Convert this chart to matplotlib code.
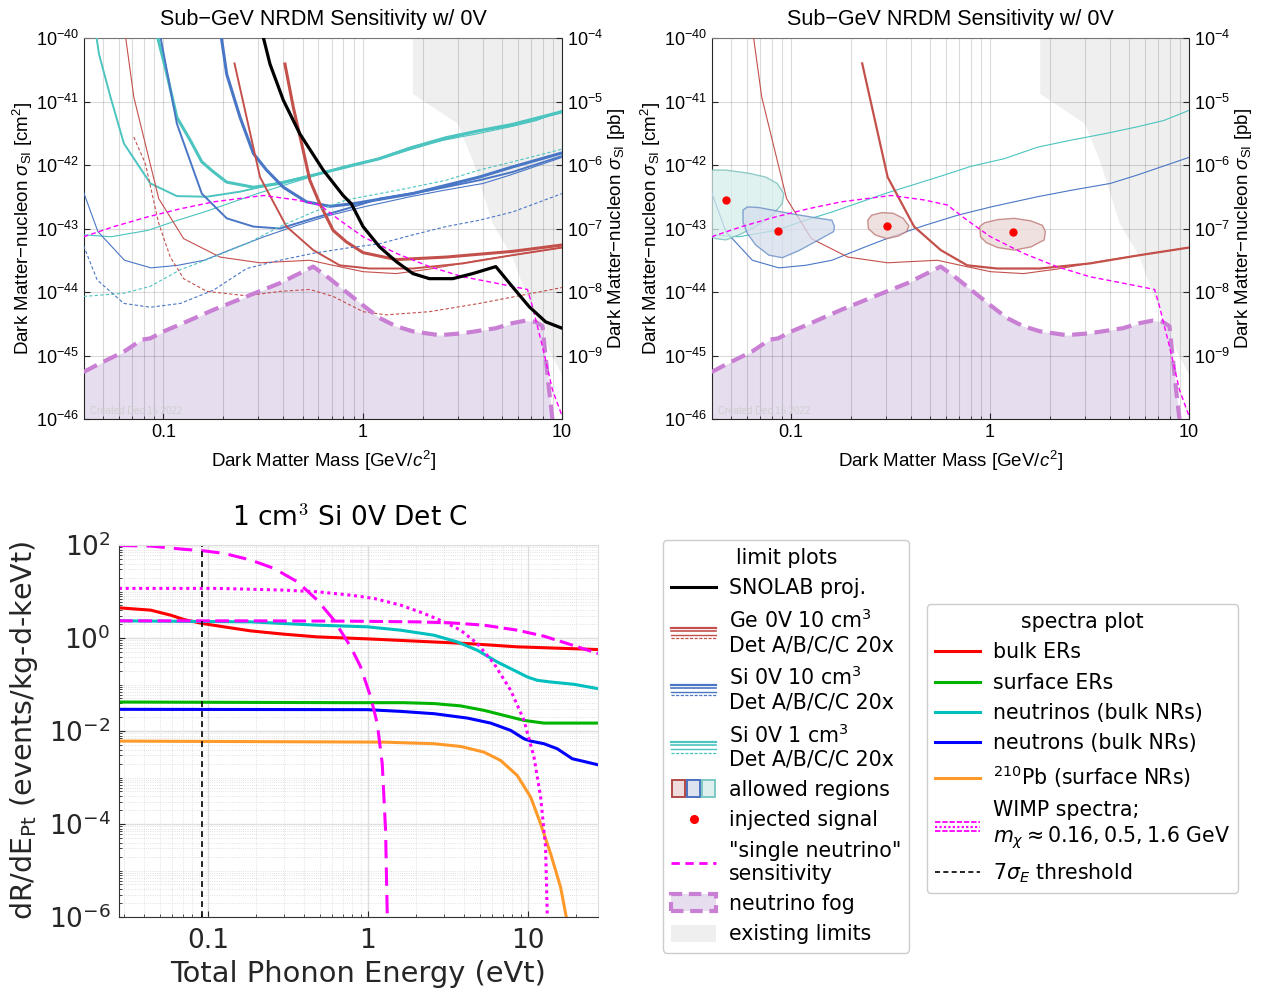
import numpy as np
import matplotlib
matplotlib.use("Agg")
import matplotlib.pyplot as plt
from matplotlib.lines import Line2D
from matplotlib.patches import Rectangle
from matplotlib.legend_handler import HandlerBase
from matplotlib.font_manager import FontProperties
from matplotlib.ticker import NullLocator, NullFormatter, LogLocator

plt.rcParams["mathtext.fontset"] = "custom"
plt.rcParams["mathtext.rm"] = "Liberation Sans"
plt.rcParams["mathtext.it"] = "Liberation Sans:italic"
plt.rcParams["mathtext.bf"] = "Liberation Sans:bold"

# ---------------- sensitivity curves: log10(m / GeV), log10(sigma / cm^2) ----------------
snolab_lm = [-0.50, -0.465, -0.398, -0.315, -0.198, -0.098, -0.057, 0.002, 0.085, 0.168, 0.252, 0.335, 0.452, 0.552, 0.668, 0.752, 0.835, 0.918, 1.0]
snolab_ls = [-39.97, -40.41, -40.98, -41.51, -42.08, -42.48, -42.61, -42.97, -43.29, -43.52, -43.71, -43.79, -43.79, -43.71, -43.60, -43.92, -44.23, -44.47, -44.57]

geA_lm = [-1.19, -1.148, -1.023, -0.898, -0.715, -0.515, -0.265, -0.148, 0.002, 0.168, 0.335, 0.585, 1.0]
geA_ls = [-39.97, -40.93, -42.53, -43.16, -43.45, -43.54, -43.50, -43.58, -43.68, -43.71, -43.64, -43.50, -43.30]
geB_lm = [-0.643, -0.515, -0.382, -0.248, -0.115, 0.035, 0.252, 0.502, 0.752, 1.0]
geB_ls = [-40.40, -42.19, -42.97, -43.34, -43.58, -43.63, -43.63, -43.55, -43.42, -43.30]
geC_lm = [-0.39, -0.348, -0.302, -0.265, -0.215, -0.148, -0.082, 0.002, 0.168, 0.418, 0.752, 1.0]
geC_ls = [-40.41, -41.09, -41.72, -42.24, -42.61, -43.03, -43.21, -43.38, -43.49, -43.45, -43.36, -43.26]
ge20_lm = [-1.148, -1.09, -1.023, -0.965, -0.898, -0.782, -0.582, -0.415, -0.265, -0.148, 0.002, 0.118, 0.335, 0.585, 1.0]
ge20_ls = [-41.56, -41.98, -42.92, -43.45, -43.79, -43.99, -44.06, -43.99, -43.96, -44.07, -44.31, -44.36, -44.31, -44.18, -43.93]

si10A_lm = [-1.40, -1.328, -1.195, -1.062, -0.928, -0.795, -0.628, -0.495, -0.328, -0.162, 0.005, 0.238, 0.405, 0.605, 0.738, 1.0]
si10A_ls = [-42.43, -43.05, -43.50, -43.62, -43.58, -43.50, -43.29, -43.13, -42.95, -42.79, -42.66, -42.50, -42.40, -42.29, -42.16, -41.88]
si10B_lm = [-1.015, -0.932, -0.807, -0.682, -0.548, -0.415, -0.248, -0.082, 0.085, 0.335, 0.585, 0.752, 1.0]
si10B_ls = [-39.97, -41.35, -42.45, -42.84, -42.97, -43.00, -42.84, -42.69, -42.53, -42.40, -42.24, -42.11, -41.86]
si10C_lm = [-0.71, -0.682, -0.615, -0.548, -0.482, -0.398, -0.282, -0.165, -0.048, 0.085, 0.252, 0.418, 0.585, 0.752, 1.0]
si10C_ls = [-39.97, -40.57, -41.25, -41.82, -42.08, -42.35, -42.58, -42.65, -42.61, -42.54, -42.45, -42.32, -42.19, -42.03, -41.81]
si10x20_lm = [-1.40, -1.332, -1.198, -1.065, -0.915, -0.748, -0.582, -0.415, -0.248, -0.082, 0.085, 0.252, 0.418, 0.585, 0.752, 1.0]
si10x20_ls = [-43.27, -43.81, -44.18, -44.24, -44.18, -43.97, -43.63, -43.50, -43.39, -43.31, -43.24, -43.10, -42.97, -42.87, -42.74, -42.45]

si1A_lm = [-1.40, -1.262, -1.078, -0.928, -0.795, -0.528, -0.262, -0.095, 0.072, 0.238, 0.405, 0.572, 0.738, 0.872, 1.0]
si1A_ls = [-43.10, -43.13, -43.03, -42.87, -42.74, -42.45, -42.19, -42.02, -41.90, -41.72, -41.61, -41.51, -41.40, -41.30, -41.14]
si1B_lm = [-1.336, -1.323, -1.265, -1.198, -1.065, -0.932, -0.782, -0.615, -0.448, -0.248, -0.082, 0.085, 0.252, 0.418, 0.585, 0.752, 1.0]
si1B_ls = [-39.97, -40.25, -40.93, -41.66, -42.29, -42.49, -42.50, -42.42, -42.30, -42.16, -42.03, -41.90, -41.74, -41.59, -41.46, -41.38, -41.17]
si1C_lm = [-1.03, -0.982, -0.932, -0.865, -0.807, -0.748, -0.682, -0.548, -0.415, -0.248, -0.082, 0.085, 0.252, 0.418, 0.585, 0.752, 1.0]
si1C_ls = [-39.97, -40.57, -41.25, -41.61, -41.95, -42.11, -42.27, -42.35, -42.29, -42.16, -42.03, -41.90, -41.72, -41.57, -41.46, -41.36, -41.16]
si1x20_lm = [-1.40, -1.198, -1.065, -0.915, -0.748, -0.582, -0.415, -0.248, -0.082, 0.085, 0.252, 0.418, 0.585, 0.752, 1.0]
si1x20_ls = [-44.07, -44.02, -43.91, -43.65, -43.45, -43.24, -42.97, -42.74, -42.55, -42.45, -42.35, -42.24, -42.08, -41.95, -41.75]

nu_lm = [-1.40, -1.248, -1.082, -0.915, -0.748, -0.498, -0.332, -0.215, -0.115, 0.002, 0.168, 0.335, 0.502, 0.668, 0.827, 0.852, 0.902, 0.952, 1.0]
nu_ls = [-43.13, -42.97, -42.82, -42.69, -42.58, -42.48, -42.55, -42.63, -42.87, -43.13, -43.39, -43.60, -43.76, -43.86, -43.96, -44.23, -44.86, -45.54, -45.95]

fog_lm = [-1.40, -1.315, -1.198, -1.107, -1.065, -0.998, -0.915, -0.748, -0.582, -0.415, -0.332, -0.248, -0.165, -0.082, 0.002, 0.085, 0.168, 0.252, 0.385, 0.502, 0.668, 0.752, 0.818, 0.868, 0.902, 0.918, 0.935, 0.952]
fog_ls = [-45.26, -45.12, -44.94, -44.75, -44.73, -44.62, -44.51, -44.28, -44.07, -43.86, -43.73, -43.60, -43.79, -44.00, -44.21, -44.41, -44.54, -44.62, -44.68, -44.65, -44.57, -44.49, -44.45, -44.47, -44.54, -45.02, -45.54, -46.0]

limit_lm = [0.252, 0.252, 0.477, 0.552, 0.652, 0.752, 0.818, 0.885, 0.935, 1.0, 1.0]
limit_ls = [-40.0, -40.88, -41.35, -41.93, -42.92, -43.45, -44.02, -44.49, -44.91, -45.30, -40.0]

# allowed-region contours and injected points
reg_si1_lm = [-1.478, -1.428, -1.328, -1.212, -1.128, -1.070, -1.037, -1.045, -1.095, -1.178, -1.262, -1.328, -1.378, -1.428, -1.478]
reg_si1_ls = [-42.11, -42.08, -42.08, -42.13, -42.19, -42.29, -42.45, -42.61, -42.79, -42.97, -43.10, -43.18, -43.16, -43.10, -43.09]
reg_si10_lm = [-1.242, -1.220, -1.162, -1.012, -0.878, -0.795, -0.782, -0.787, -0.862, -0.962, -1.045, -1.112, -1.178, -1.220, -1.242]
reg_si10_ls = [-42.71, -42.66, -42.67, -42.76, -42.83, -42.87, -42.97, -43.05, -43.18, -43.35, -43.46, -43.42, -43.26, -43.08, -42.90]
reg_geB_lm = [-0.615, -0.595, -0.545, -0.487, -0.437, -0.408, -0.420, -0.462, -0.520, -0.578, -0.612]
reg_geB_ls = [-42.87, -42.79, -42.75, -42.76, -42.84, -42.96, -43.05, -43.12, -43.16, -43.10, -43.00]
reg_geA_lm = [-0.052, -0.028, 0.038, 0.122, 0.205, 0.263, 0.278, 0.272, 0.205, 0.122, 0.038, -0.020, -0.048]
reg_geA_ls = [-42.97, -42.91, -42.86, -42.84, -42.88, -42.95, -43.05, -43.18, -43.29, -43.34, -43.30, -43.22, -43.13]
inj_m = [0.047, 0.0858, 0.304, 1.30]
inj_sig = [2.79e-43, 9.3e-44, 1.10e-43, 8.75e-44]

# ---------------- spectra: log10(E / eVt), log10(rate) ----------------
wimp016_le = [-1.556, -1.358, -1.15, -1.035, -0.9, -0.733, -0.5875, -0.442, -0.317, -0.2125, -0.108, -0.046, 0.017, 0.058, 0.089, 0.11, 0.121]
wimp016_lr = [1.99, 1.978, 1.907, 1.878, 1.82, 1.677, 1.497, 1.21, 0.815, 0.384, -0.19, -0.62, -1.27, -1.84, -2.70, -4.14, -6.05]
wimp05_le = [-1.556, -0.942, -0.525, -0.317, -0.108, 0.0375, 0.204, 0.35, 0.475, 0.579, 0.683, 0.7875, 0.892, 0.975, 1.0375, 1.079, 1.11, 1.121]
wimp05_lr = [1.067, 1.067, 1.03, 0.994, 0.922, 0.851, 0.707, 0.528, 0.347, 0.168, -0.119, -0.55, -1.125, -1.77, -2.56, -3.42, -4.50, -6.05]
wimp16_le = [-1.556, -0.733, -0.108, 0.308, 0.517, 0.725, 0.933, 1.1, 1.246, 1.4375]
wimp16_lr = [0.369, 0.369, 0.362, 0.347, 0.326, 0.276, 0.168, 0.039, -0.119, -0.334]
bulk_er_le = [-1.556, -1.358, -1.233, -1.15, -1.035, -0.9, -0.733, -0.525, -0.317, 0.0, 0.308, 0.621, 0.933, 1.4375]
bulk_er_lr = [0.649, 0.599, 0.491, 0.398, 0.312, 0.24, 0.153, 0.082, 0.024, -0.019, -0.069, -0.119, -0.19, -0.248]
surf_er_le = [-1.556, -0.108, 0.225, 0.4125, 0.579, 0.725, 0.85, 0.975, 1.1, 1.4375]
surf_er_lr = [-1.377, -1.391, -1.391, -1.41, -1.46, -1.556, -1.664, -1.772, -1.83, -1.83]
nu_nr_le = [-1.556, -0.733, -0.317, -0.004, 0.204, 0.4125, 0.558, 0.683, 0.808, 0.9125, 0.996, 1.058, 1.142, 1.2875, 1.4375]
nu_nr_lr = [0.369, 0.347, 0.276, 0.24, 0.168, 0.06, -0.084, -0.263, -0.515, -0.694, -0.838, -0.91, -0.946, -0.996, -1.089]
neutron_le = [-1.556, -0.004, 0.204, 0.4125, 0.621, 0.767, 0.892, 0.975, 1.017, 1.1, 1.183, 1.277, 1.35, 1.4375]
neutron_lr = [-1.534, -1.541, -1.578, -1.628, -1.722, -1.83, -1.987, -2.167, -2.217, -2.274, -2.382, -2.597, -2.655, -2.727]
pb210_le = [-1.556, 0.1, 0.4125, 0.579, 0.725, 0.829, 0.933, 1.017, 1.079, 1.142, 1.204, 1.242]
pb210_lr = [-2.217, -2.239, -2.274, -2.332, -2.454, -2.634, -2.957, -3.424, -3.998, -4.645, -5.364, -6.05]
threshold_e = 0.092

GE, SI10, SI1 = "#c4504c", "#4a76c6", "#4cc4bf"
FOG_FILL, FOG_EDGE, LIMIT_GRAY = "#e6ddef", "#c97fd3", "#efefef"
MAG = "#ff00ff"
HEL = "Liberation Sans"


def ex(a):
    return 10.0 ** np.asarray(a)


fig = plt.figure(figsize=(12.61, 9.93), dpi=100)


def px_rect(x0, x1, y0, y1):
    return [x0 / 1261, 1 - y1 / 993, (x1 - x0) / 1261, (y1 - y0) / 993]


def sens_axes(rect):
    ax = fig.add_axes(rect)
    ax.set_xscale("log")
    ax.set_yscale("log")
    ax.fill(ex(limit_lm), ex(limit_ls), color=LIMIT_GRAY, lw=0, zorder=1)
    ax.fill_between(ex(fog_lm), ex(fog_ls), 1e-46, color=FOG_FILL, lw=0, zorder=1)
    ax.plot(ex(fog_lm), ex(fog_ls), color=FOG_EDGE, lw=3, dashes=(3.6, 1.8), zorder=4)
    ax.plot(ex(nu_lm), ex(nu_ls), color=MAG, lw=1.0, dashes=(3.5, 2.2), zorder=4)
    ax.set_xlim(0.04, 10)
    ax.set_ylim(1e-46, 1e-40)
    ax.set_axisbelow("line")
    ax.set_xticks([0.1, 1, 10], ["0.1", "1", "10"])
    ax.set_xticks([0.04, 0.05, 0.06, 0.07, 0.08, 0.09, 0.2, 0.3, 0.4, 0.5, 0.6, 0.7, 0.8, 0.9,
                   2, 3, 4, 5, 6, 7, 8, 9], minor=True)
    ax.xaxis.set_minor_formatter(NullFormatter())
    ax.set_yticks(10.0 ** np.arange(-46, -39))
    ax.yaxis.set_minor_locator(NullLocator())
    ax.grid(True, which="both", axis="x", color="k", alpha=0.14, lw=0.8)
    ax.grid(True, which="major", axis="y", color="k", alpha=0.14, lw=0.8)
    ax.tick_params(which="both", direction="in", labelsize=13, labelfontfamily=HEL,
                   color="#262626", length=4, right=False, top=False)
    ax.tick_params(which="minor", length=2)
    for s in ax.spines.values():
        s.set_color("#262626")
        s.set_linewidth(0.8)
    ax.spines["top"].set_color("#777777")
    ax.set_xlabel("Dark Matter Mass [GeV/$c^2$]", fontsize=13.5, fontfamily=HEL, labelpad=6)
    ax.set_ylabel("Dark Matter\u2212nucleon $\\sigma_{\\rm SI}$ [cm$^2$]", fontsize=13.5,
                  fontfamily=HEL, labelpad=1)
    ax.set_title("Sub\u2212GeV NRDM Sensitivity w/ 0V", fontsize=15.5, fontfamily=HEL, pad=9)
    ax.text(0.012, 0.012, "Created Dec 15 2022", transform=ax.transAxes, fontsize=7,
            color="#cfcfcf", fontfamily=HEL, zorder=5)

    ax2 = ax.twinx()
    ax2.set_yscale("log")
    ax2.set_ylim(1e-10, 1e-4)
    ax2.set_yticks(10.0 ** np.arange(-9, -3))
    ax2.yaxis.set_minor_locator(NullLocator())
    ax2.tick_params(direction="in", labelsize=13, labelfontfamily=HEL, color="#262626", length=4)
    for s in ax2.spines.values():
        s.set_visible(False)
    ax2.set_ylabel("Dark Matter\u2212nucleon $\\sigma_{\\rm SI}$ [pb]", fontsize=13.5,
                   fontfamily=HEL, labelpad=2)
    return ax


# ---------------- top-left: all detector configurations ----------------
ax1 = sens_axes(px_rect(84, 562, 38, 419))
for lm, ls, col, lw in [(si1A_lm, si1A_ls, SI1, 0.8), (si1B_lm, si1B_ls, SI1, 1.4), (si1C_lm, si1C_ls, SI1, 2.2),
                        (si10A_lm, si10A_ls, SI10, 0.8), (si10B_lm, si10B_ls, SI10, 1.4), (si10C_lm, si10C_ls, SI10, 2.2),
                        (geA_lm, geA_ls, GE, 0.8), (geB_lm, geB_ls, GE, 1.4), (geC_lm, geC_ls, GE, 2.2)]:
    ax1.plot(ex(lm), ex(ls), color=col, lw=lw, zorder=3)
for lm, ls, col in [(si1x20_lm, si1x20_ls, SI1), (si10x20_lm, si10x20_ls, SI10), (ge20_lm, ge20_ls, GE)]:
    ax1.plot(ex(lm), ex(ls), color=col, lw=0.8, dashes=(3, 2), zorder=3)
ax1.plot(ex(snolab_lm), ex(snolab_ls), color="k", lw=2.3, zorder=5)

# ---------------- top-right: single configurations with allowed regions ----------------
ax2 = sens_axes(px_rect(712, 1189, 38, 419))
ax2.plot(ex(si1A_lm), ex(si1A_ls), color=SI1, lw=0.8, zorder=3)
ax2.plot(ex(si10A_lm), ex(si10A_ls), color=SI10, lw=0.8, zorder=3)
ax2.plot(ex(geA_lm), ex(geA_ls), color=GE, lw=0.8, zorder=3)
ax2.plot(ex(geB_lm), ex(geB_ls), color=GE, lw=1.6, zorder=3)
for lm, ls, fc, ec in [(reg_si1_lm, reg_si1_ls, "#d6eeec", "#72bdb8"),
                       (reg_si10_lm, reg_si10_ls, "#d5deec", "#6289c4"),
                       (reg_geB_lm, reg_geB_ls, "#ecd8d8", "#b8706c"),
                       (reg_geA_lm, reg_geA_ls, "#ecd8d8", "#b8706c")]:
    ax2.fill(ex(lm), ex(ls), facecolor=fc, edgecolor=ec, lw=1.0, alpha=0.75, zorder=3.5)
ax2.plot(inj_m, inj_sig, "o", color="red", ms=5, zorder=6)

# ---------------- bottom: background and signal spectra ----------------
ax3 = fig.add_axes(px_rect(119, 598, 545, 917))
ax3.set_xscale("log")
ax3.set_yscale("log")
ax3.plot(ex(bulk_er_le), ex(bulk_er_lr), color="#ff0000", lw=2.2)
ax3.plot(ex(surf_er_le), ex(surf_er_lr), color="#00b400", lw=2.2)
ax3.plot(ex(nu_nr_le), ex(nu_nr_lr), color="#00bfbf", lw=2.2)
ax3.plot(ex(neutron_le), ex(neutron_lr), color="#0000ff", lw=2.2)
ax3.plot(ex(pb210_le), ex(pb210_lr), color="#ff9a2a", lw=2.2)
ax3.plot(ex(wimp016_le), ex(wimp016_lr), color=MAG, lw=2.2, dashes=(6, 3))
ax3.plot(ex(wimp05_le), ex(wimp05_lr), color=MAG, lw=2.2, dashes=(1, 1.2))
ax3.plot(ex(wimp16_le), ex(wimp16_lr), color=MAG, lw=2.2, dashes=(4.5, 1.8))
ax3.axvline(threshold_e, color="k", lw=1.2, dashes=(3.5, 2.5))
ax3.set_xlim(10 ** -1.556, 10 ** 1.4375)
ax3.set_ylim(1e-6, 1e2)
ax3.set_xticks([0.1, 1, 10], ["0.1", "1", "10"])
ax3.xaxis.set_minor_locator(LogLocator(base=10, subs=np.arange(2, 10), numticks=50))
ax3.xaxis.set_minor_formatter(NullFormatter())
ax3.set_yticks(10.0 ** np.arange(-6, 3, 2))
ax3.yaxis.set_minor_locator(LogLocator(base=10, subs=np.arange(1, 10), numticks=50))
ax3.yaxis.set_minor_formatter(NullFormatter())
ax3.set_axisbelow(True)
ax3.grid(True, which="major", color="#dedede", lw=1.0)
ax3.grid(True, which="minor", color="#d8d8d8", lw=0.6, linestyle=":")
ax3.tick_params(which="both", direction="in", labelsize=19, colors="#262626", length=4)
ax3.tick_params(axis="x", pad=8)
ax3.tick_params(axis="y", pad=6)
ax3.tick_params(which="minor", length=2)
for side in ["top", "right"]:
    ax3.spines[side].set_color("#dddddd")
for side in ["left", "bottom"]:
    ax3.spines[side].set_color("#333333")
ax3.set_xlabel("Total Phonon Energy (eVt)", fontsize=20.8, color="#262626", labelpad=4)
ax3.set_ylabel("dR/dE$_{\\mathrm{Pt}}$ (events/kg-d-keVt)", fontsize=20.5, color="#262626",
               math_fontfamily="dejavusans", labelpad=6)
ax3.set_title("1 cm$^3$ Si 0V Det C", fontsize=19, math_fontfamily="cm", pad=14, x=0.481)


# ---------------- legends ----------------
class StackHandler(HandlerBase):
    def __init__(self, color, styles, step):
        super().__init__()
        self.color = color
        self.styles = styles
        self.step = step

    def create_artists(self, legend, orig_handle, xdescent, ydescent, width, height, fontsize, trans):
        yc = (height - ydescent) / 2
        n = len(self.styles)
        arts = []
        for i, (ls, lw) in enumerate(self.styles):
            y = yc + ((n - 1) / 2 - i) * self.step
            arts.append(Line2D([-xdescent, width - xdescent], [y, y], color=self.color,
                               lw=lw, linestyle=ls, transform=trans))
        return arts


class BoxesHandler(HandlerBase):
    def __init__(self, faces, edges):
        super().__init__()
        self.faces = faces
        self.edges = edges

    def create_artists(self, legend, orig_handle, xdescent, ydescent, width, height, fontsize, trans):
        n = len(self.faces)
        w = width / n
        arts = []
        for i in range(n):
            arts.append(Rectangle((-xdescent + i * w + 0.6, -ydescent - 1), w - 1.6, height + 2,
                                  facecolor=self.faces[i], edgecolor=self.edges[i], lw=1.4, transform=trans))
        return arts


class BoxHandler(HandlerBase):
    def __init__(self, **kw):
        super().__init__()
        self.kw = kw

    def create_artists(self, legend, orig_handle, xdescent, ydescent, width, height, fontsize, trans):
        return [Rectangle((-xdescent, -ydescent - 1), width, height + 2, transform=trans, **self.kw)]


lfont = FontProperties(family="DejaVu Sans", size=14.8, math_fontfamily="dejavusans")

h_snolab = Line2D([], [], color="k", lw=2.2)
h_ge, h_si10, h_si1 = Line2D([], []), Line2D([], []), Line2D([], [])
h_regions, h_fog, h_limits = Line2D([], []), Line2D([], []), Line2D([], [])
h_inj = Line2D([], [], color="red", marker="o", ls="none", ms=5.5)
h_nu = Line2D([], [], color=MAG, lw=2.0, dashes=(3, 2))
stack = [("-", 1.6), ("-", 1.2), ("-", 1.0), ((0, (2.5, 1.2)), 0.9)]

leg1 = fig.legend(
    handles=[h_snolab, h_ge, h_si10, h_si1, h_regions, h_inj, h_nu, h_fog, h_limits],
    labels=["SNOLAB proj.", "Ge 0V 10 cm$^3$\nDet A/B/C/C 20x", "Si 0V 10 cm$^3$\nDet A/B/C/C 20x",
            "Si 0V 1 cm$^3$\nDet A/B/C/C 20x", "allowed regions", "injected signal",
            "\"single neutrino\"\nsensitivity", "neutrino fog", "existing limits"],
    handler_map={
        h_ge: StackHandler(GE, stack, 2.6),
        h_si10: StackHandler(SI10, stack, 2.6),
        h_si1: StackHandler(SI1, stack, 2.6),
        h_regions: BoxesHandler(["#efdcdc", "#dde4f0", "#ddf0ee"], ["#b04a46", "#4a70c0", "#7cc8c3"]),
        h_fog: BoxHandler(facecolor=FOG_FILL, edgecolor=FOG_EDGE, lw=3, linestyle=(0, (3, 1.6))),
        h_limits: BoxHandler(facecolor=LIMIT_GRAY, edgecolor="none"),
    },
    loc="upper left", bbox_to_anchor=(663 / 1261, 1 - 540 / 993), borderaxespad=0,
    prop=lfont, title="limit plots", title_fontproperties=lfont, handlelength=2.2,
    handletextpad=0.6, labelspacing=0.5, borderpad=0.4, frameon=True, fancybox=True,
    edgecolor="#cccccc", framealpha=1)

h_wimp = Line2D([], [])
leg2 = fig.legend(
    handles=[Line2D([], [], color="#ff0000", lw=2.2), Line2D([], [], color="#00b400", lw=2.2),
             Line2D([], [], color="#00bfbf", lw=2.2), Line2D([], [], color="#0000ff", lw=2.2),
             Line2D([], [], color="#ff9a2a", lw=2.2), h_wimp,
             Line2D([], [], color="k", lw=1.2, dashes=(3, 2))],
    labels=["bulk ERs", "surface ERs", "neutrinos (bulk NRs)", "neutrons (bulk NRs)",
            "$^{210}$Pb (surface NRs)", "WIMP spectra;\n$m_\\chi \\approx 0.16, 0.5, 1.6$ GeV",
            "7$\\sigma_E$ threshold"],
    handler_map={h_wimp: StackHandler(MAG, [((0, (3, 1)), 1.3), ((0, (1, 1)), 1.6), ((0, (3, 1)), 1.3)], 3.0)},
    loc="upper left", bbox_to_anchor=(927 / 1261, 1 - 604 / 993), borderaxespad=0,
    prop=lfont, title="spectra plot", title_fontproperties=lfont, handlelength=2.2,
    handletextpad=0.6, labelspacing=0.5, borderpad=0.4, frameon=True, fancybox=True,
    edgecolor="#cccccc", framealpha=1)

fig.savefig("out.png", dpi=100)
